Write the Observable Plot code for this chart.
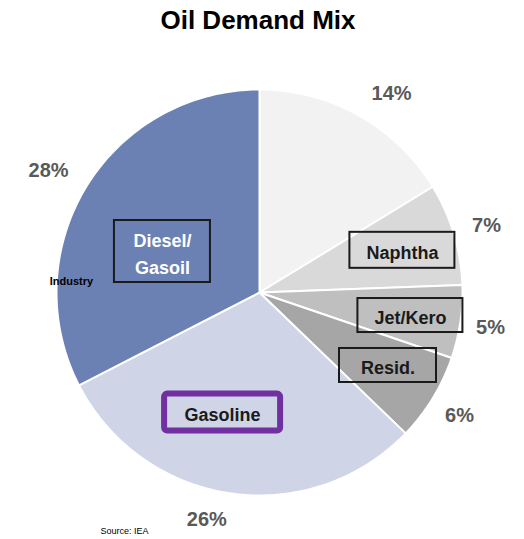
<!DOCTYPE html>
<html>
<head>
<meta charset="utf-8">
<script src="https://cdn.jsdelivr.net/npm/d3@7"></script>
<script src="https://cdn.jsdelivr.net/npm/@observablehq/plot@0.6"></script>
<style>
  body { margin: 0; background: #fff; font-family: "Liberation Sans", Arial, sans-serif; }
  #title { height: 40px; line-height: 40px; font-size: 26px; font-weight: bold; text-align: center; padding-right: 8px; color: #000; }
  #chart svg { display: block; }
</style>
</head>
<body>
<div id="title">Oil Demand Mix</div>
<div id="chart"></div>
<script>
// ---- data ----
const categories = ["Other", "Naphtha", "Jet/Kero", "Resid.", "Gasoline", "Diesel/Gasoil"];
const shares = [14, 7, 5, 6, 26, 28];
const pctLabels = ["14%", "7%", "5%", "6%", "26%", "28%"];
const boxLabels = ["", "Naphtha", "Jet/Kero", "Resid.", "Gasoline", "Diesel/\nGasoil"];
const sideNote = "Industry";
const source = "Source: IEA";

// ---- style / layout ----
const sliceColors = ["#f2f2f2", "#d9d9d9", "#bfbfbf", "#a6a6a6", "#cfd5e7", "#6b81b4"];
const R = 203; // px per unit
const pctLayout = [{r:1.176,da:4.3},{r:1.166,da:0.3},{r:1.151,da:0.2},{r:1.157,da:0.2},{r:1.148,da:4.7},{r:1.2,da:-1.4}];
const boxLayout = [null,
  {r:0.734, da:0.3, w:105, h:36},
  {r:0.752, da:0.3, w:105, h:34},
  {r:0.728, da:-1.8, w:97, h:34},
  {r:0.619, da:8.7, w:116, h:37},
  {r:0.519, da:-8.5, w:96, h:62}];
const noteLayout = {slice:5, r:0.928, da:-28.1};

const arcs = d3.pie().sort(null).value(d => d)(shares);
const polar = (a, r) => ({x: Math.sin(a) * r, y: Math.cos(a) * r});
const deg = Math.PI / 180;

// slice outlines
const slicePts = [];
arcs.forEach((a, i) => {
  slicePts.push({cat: categories[i], ...polar(0, 0)});
  const n = Math.max(2, Math.ceil((a.endAngle - a.startAngle) / deg));
  for (let k = 0; k <= n; k++) {
    const t = a.startAngle + (a.endAngle - a.startAngle) * k / n;
    slicePts.push({cat: categories[i], ...polar(t, 1)});
  }
});

const mid = i => (arcs[i].startAngle + arcs[i].endAngle) / 2;
const pctData = arcs.map((a, i) => ({label: pctLabels[i], ...polar(mid(i) + pctLayout[i].da * deg, pctLayout[i].r)}));
const boxData = arcs.map((a, i) => {
  const L = boxLayout[i];
  if (!L) return null;
  const p = polar(mid(i) + L.da * deg, L.r);
  return {label: boxLabels[i], i, ...p,
    x1: p.x - L.w / 2 / R, x2: p.x + L.w / 2 / R,
    y1: p.y - L.h / 2 / R, y2: p.y + L.h / 2 / R};
}).filter(d => d);
const notePos = polar(mid(noteLayout.slice) + noteLayout.da * deg, noteLayout.r);

const chart = Plot.plot({
  width: 524,
  height: 499,
  margin: 0,
  x: {domain: [-1, 1], range: [259 - R, 259 + R], axis: null},
  y: {domain: [-1, 1], range: [252 + R, 252 - R], axis: null},
  color: {domain: categories, range: sliceColors},
  marks: [
    Plot.line(slicePts, {x: "x", y: "y", z: "cat", fill: "cat", stroke: "#fff", strokeWidth: 2, curve: "linear-closed"}),
    Plot.rect(boxData.filter(d => d.i !== 4), {x1: "x1", x2: "x2", y1: "y1", y2: "y2", fill: "none", stroke: "#1a1a1a", strokeWidth: 2}),
    Plot.rect(boxData.filter(d => d.i === 4), {x1: "x1", x2: "x2", y1: "y1", y2: "y2", fill: "none", stroke: "#7030a0", strokeWidth: 6, rx: 3}),
    Plot.text(boxData, {x: "x", y: "y", text: "label", fontSize: 18, fontWeight: "bold", lineHeight: 1.5,
      fill: d => d.i === 5 ? "#ffffff" : "#1a1a1a", fontFamily: "Liberation Sans"}),
    Plot.text(pctData, {x: "x", y: "y", text: "label", fontSize: 20, fontWeight: "bold", fill: "#595959", fontFamily: "Liberation Sans"}),
    Plot.text([sideNote], {x: () => notePos.x, y: () => notePos.y, text: d => d, fontSize: 11, fontWeight: "bold", fill: "#000", fontFamily: "Liberation Sans"}),
    Plot.text([source], {frameAnchor: "bottom-left", text: d => d, dx: 100, dy: -6, textAnchor: "start", fontSize: 9, fill: "#000", fontFamily: "Liberation Sans"})
  ]
});
document.getElementById("chart").appendChild(chart);
</script>
</body>
</html>
